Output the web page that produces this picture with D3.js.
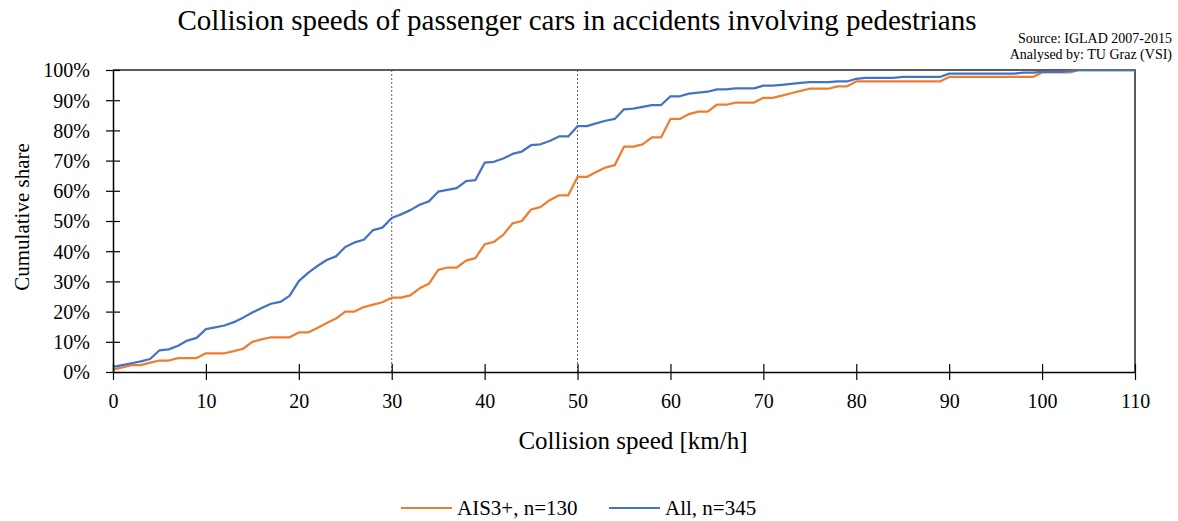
<!DOCTYPE html>
<meta charset="utf-8">
<title>Collision speeds</title>
<style>
body { margin: 0; background: #fff; }
text { font-family: "Palatino Linotype", "Book Antiqua", "Liberation Serif", serif; fill: #000; }
</style>
<svg></svg>
<script src="https://cdn.jsdelivr.net/npm/d3@7"></script>
<script>
var width = 1178, height = 521;

// collision speed, km/h
var speeds = d3.range(0, 111);

// cumulative share in %
var allShare = [
  1.7, 2.3, 2.9, 3.5, 4.3, 7.2, 7.5, 8.7, 10.4, 11.3,
  14.2, 14.8, 15.4, 16.5, 18.0, 19.7, 21.2, 22.6, 23.2, 25.2,
  30.1, 32.8, 35.1, 37.1, 38.3, 41.4, 42.9, 43.8, 47.0, 47.8,
  51.0, 52.2, 53.6, 55.4, 56.5, 59.7, 60.3, 60.9, 63.2, 63.5,
  69.3, 69.6, 70.7, 72.2, 73.0, 75.1, 75.4, 76.5, 78.0, 78.0,
  81.4, 81.4, 82.3, 83.2, 83.8, 87.0, 87.2, 87.8, 88.4, 88.4,
  91.3, 91.3, 92.2, 92.5, 92.8, 93.6, 93.6, 93.9, 93.9, 93.9,
  94.8, 94.8, 95.1, 95.4, 95.7, 96.0, 96.0, 96.0, 96.2, 96.2,
  97.1, 97.4, 97.4, 97.4, 97.4, 97.7, 97.7, 97.7, 97.7, 97.7,
  98.8, 98.8, 98.8, 98.8, 98.8, 98.8, 98.8, 98.8, 99.1, 99.1,
  99.4, 99.4, 99.4, 99.7, 100, 100, 100, 100, 100, 100, 100
];
var ais3Share = [
  0.8, 1.5, 2.3, 2.3, 3.1, 3.8, 3.8, 4.6, 4.6, 4.6,
  6.2, 6.2, 6.2, 6.9, 7.7, 10.0, 10.8, 11.5, 11.5, 11.5,
  13.1, 13.1, 14.6, 16.2, 17.7, 20.0, 20.0, 21.5, 22.3, 23.1,
  24.6, 24.6, 25.4, 27.7, 29.2, 33.8, 34.6, 34.6, 36.9, 37.7,
  42.3, 43.1, 45.4, 49.2, 50.0, 53.8, 54.6, 56.9, 58.5, 58.5,
  64.6, 64.6, 66.2, 67.7, 68.5, 74.6, 74.6, 75.4, 77.7, 77.7,
  83.8, 83.8, 85.4, 86.2, 86.2, 88.5, 88.5, 89.2, 89.2, 89.2,
  90.8, 90.8, 91.5, 92.3, 93.1, 93.8, 93.8, 93.8, 94.6, 94.6,
  96.2, 96.2, 96.2, 96.2, 96.2, 96.2, 96.2, 96.2, 96.2, 96.2,
  97.7, 97.7, 97.7, 97.7, 97.7, 97.7, 97.7, 97.7, 97.7, 97.7,
  99.2, 99.2, 99.2, 99.2, 100, 100, 100, 100, 100, 100, 100
];

var xTicks = d3.range(0, 111, 10);
var yTicks = d3.range(0, 101, 10);
var markSpeeds = [30, 50];

var series = [
  { name: "AIS3+, n=130", values: ais3Share, color: "#ED7D31" },
  { name: "All, n=345", values: allShare, color: "#4472C4" }
];

var svg = d3.select("svg").attr("width", width).attr("height", height);

var x = d3.scaleLinear().domain([0, 110]).range([113, 1135]);
var y = d3.scaleLinear().domain([0, 100]).range([372, 70]);

// frame (top + right)
svg.append("path")
  .attr("d", "M" + x(0) + "," + y(100) + "H" + x(110) + "V" + y(0))
  .attr("fill", "none")
  .attr("stroke", "#262626")
  .attr("stroke-width", 1.5);

// dashed markers
svg.selectAll(".mark")
  .data(markSpeeds)
  .enter()
  .append("line")
  .attr("x1", d => x(d)).attr("x2", d => x(d))
  .attr("y1", y(100)).attr("y2", y(0))
  .attr("stroke", "#5a5a5a")
  .attr("stroke-width", 1)
  .attr("stroke-dasharray", "2,2");

var line = d3.line()
  .x((d, i) => x(speeds[i]))
  .y(d => y(d));

svg.selectAll(".series")
  .data(series)
  .enter()
  .append("path")
  .attr("d", d => line(d.values))
  .attr("fill", "none")
  .attr("stroke", d => d.color)
  .attr("stroke-width", 2.25)
  .attr("stroke-linejoin", "round");

// axes
var yAxis = svg.append("g")
  .attr("transform", "translate(" + x(0) + ",0)")
  .call(d3.axisLeft(y).tickValues(yTicks).tickFormat(d => d + "%").tickSize(7).tickPadding(16).tickSizeOuter(0));
yAxis.selectAll(".tick line").attr("x1", 7);
yAxis.selectAll(".tick text").attr("dy", "0.34em");

var xAxis = svg.append("g")
  .attr("transform", "translate(0," + y(0) + ")")
  .call(d3.axisBottom(x).tickValues(xTicks).tickSize(8).tickPadding(14).tickSizeOuter(0));
xAxis.selectAll(".tick line").attr("y1", -8);

svg.selectAll(".domain").attr("stroke", "#000").attr("stroke-width", 1.5);
svg.selectAll(".tick line").attr("stroke", "#000").attr("stroke-width", 1.2);
yAxis.selectAll("text").attr("font-family", null).attr("font-size", 20).attr("fill", "#000");
xAxis.selectAll("text").attr("font-family", null).attr("font-size", 20).attr("fill", "#000");

// titles
svg.append("text")
  .attr("x", 577).attr("y", 30)
  .attr("text-anchor", "middle")
  .attr("font-size", 29)
  .text("Collision speeds of passenger cars in accidents involving pedestrians");

svg.append("text")
  .attr("x", 1172).attr("y", 43)
  .attr("text-anchor", "end")
  .attr("font-size", 14)
  .text("Source: IGLAD 2007-2015");
svg.append("text")
  .attr("x", 1172).attr("y", 59)
  .attr("text-anchor", "end")
  .attr("font-size", 14)
  .text("Analysed by: TU Graz (VSI)");

svg.append("text")
  .attr("x", 633).attr("y", 449)
  .attr("text-anchor", "middle")
  .attr("font-size", 25)
  .text("Collision speed [km/h]");

svg.append("text")
  .attr("transform", "translate(29,217) rotate(-90)")
  .attr("text-anchor", "middle")
  .attr("font-size", 21)
  .text("Cumulative share");

// legend
var legendX = [401, 609];
var legend = svg.selectAll(".legend")
  .data(series)
  .enter()
  .append("g")
  .attr("transform", (d, i) => "translate(" + legendX[i] + ",508)");

legend.append("line")
  .attr("x1", 0).attr("x2", 51)
  .attr("stroke", d => d.color)
  .attr("stroke-width", 2);

legend.append("text")
  .attr("x", 56).attr("y", 7)
  .attr("font-size", 21)
  .text(d => d.name);
</script>
